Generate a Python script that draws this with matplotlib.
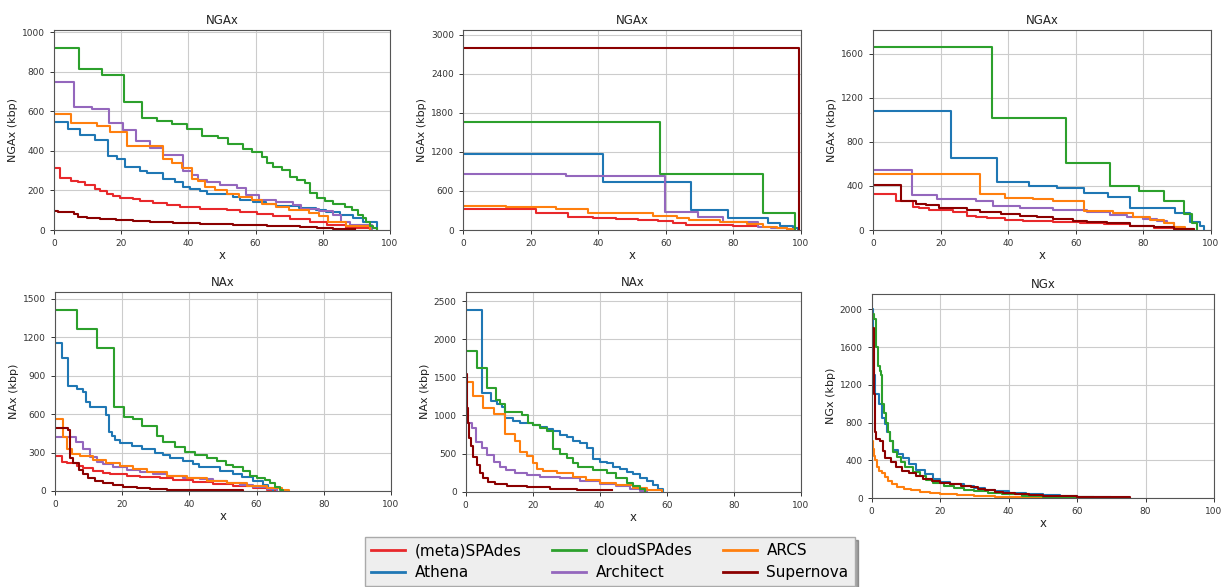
import matplotlib
matplotlib.use("Agg")
import matplotlib.pyplot as plt

# ---------------- data ----------------
methods = ["(meta)SPAdes", "Athena", "cloudSPAdes", "Architect", "ARCS", "Supernova"]
colors = ["#e8282b", "#1f77b4", "#2ca02c", "#9467bd", "#ff7f0e", "#8b0000"]

titles = ["NGAx", "NGAx", "NGAx", "NAx", "NAx", "NGx"]
ylabels = ["NGAx (kbp)", "NGAx (kbp)", "NGAx (kbp)", "NAx (kbp)", "NAx (kbp)", "NGx (kbp)"]
xticks = [0, 20, 40, 60, 80, 100]
yticks1 = [0, 200, 400, 600, 800, 1000]
yticks2 = [0, 600, 1200, 1800, 2400, 3000]
yticks3 = [0, 400, 800, 1200, 1600]
yticks4 = [0, 300, 600, 900, 1200, 1500]
yticks5 = [0, 500, 1000, 1500, 2000, 2500]
yticks6 = [0, 400, 800, 1200, 1600, 2000]
ytops = [1013, 3080, 1820, 1557, 2622, 2162]

# panel 1 (NGAx)
p1_red = [(0,315),(1.8,265),(5,250),(7.2,240),(9.2,225),(12.2,205),(13.7,195),(15.7,180),(17.7,170),(19.7,160),(23.6,155),(25.6,145),(29.6,135),(33.5,125),(37.5,115),(43.5,105),(51.4,100),(55.3,90),(60.3,80),(65.3,70),(70.2,55),(76.2,40),(81.2,25),(87,10),(94,0)]
p1_blue = [(0,548),(4.3,511),(7.7,481),(12.2,457),(16.2,375),(18.7,360),(21.1,319),(25.6,299),(27.6,289),(32.5,260),(36,240),(38.5,218),(40.5,205),(43.5,195),(45.5,180),(53.4,165),(55.5,150),(59.3,140),(63,130),(66,120),(73,110),(78,100),(81,90),(85,75),(89,60),(92,40),(96,0)]
p1_green = [(0,920),(7.5,815),(14.3,782),(20.8,645),(26.1,565),(30.6,550),(35,535),(39.7,510),(44,475),(48.9,465),(51.9,432),(56.3,408),(58.8,392),(61.8,370),(63.3,336),(65.3,316),(67.8,305),(70.2,269),(72.2,255),(74.7,239),(76.2,185),(78.2,163),(80.7,145),(83.1,130),(86.6,115),(88.6,101),(90.6,75),(92,60),(93,40),(94,20),(95,10),(96,0)]
p1_purple = [(0,750),(6,622),(11.2,610),(16.5,543),(20.6,505),(24.5,450),(28.5,415),(32.5,380),(38.5,300),(41,280),(43,255),(45.5,240),(49.5,225),(54.5,210),(57,175),(61,150),(66,140),(71,125),(73.5,105),(79,95),(83,75),(85.5,40),(88,25),(94.5,0)]
p1_orange = [(0,585),(5,541),(12.7,525),(16.7,496),(21.8,425),(32.5,361),(35,341),(38,311),(41,260),(43,250),(45,218),(48,200),(51.5,181),(55,165),(59,151),(62,130),(66,115),(70,100),(76,85),(79,70),(81.6,40),(87,20),(94,0)]
p1_darkred = [(0,95),(1.3,90),(6,80),(7.2,65),(9.7,60),(13.7,55),(18.6,50),(23.6,45),(28.5,40),(35.5,35),(43.5,30),(53.4,25),(63.3,20),(73.2,15),(78.2,10),(83,5),(89.6,5)]

# panel 2 (NGAx)
p2_red = [(0,315),(21.7,255),(31.1,204),(38.5,190),(45.4,165),(51.8,150),(57.7,135),(62.2,110),(66.1,80),(71,70),(80,60),(87,60)]
p2_blue = [(0,1170),(41.5,735),(67.6,306),(78.5,179),(90.3,100),(93.8,60),(97.7,30),(99,0)]
p2_green = [(0,1660),(58.4,857),(88.8,255),(98.2,0)]
p2_purple = [(0,865),(30.6,827),(59.7,281),(69.6,194),(77,130),(87.4,50),(91,30),(96,0)]
p2_orange = [(0,365),(12.8,350),(27.6,330),(37,265),(56.3,215),(63.2,180),(67,160),(76,130),(84,90),(88.8,50),(92.8,25),(95.8,10),(97.7,0)]
p2_darkred = [(0,2800),(99.3,0)]

# panel 3 (NGAx)
p3_red = [(0,323),(6.9,263),(11.9,211),(13.6,200),(16.6,185),(23.7,166),(27.7,130),(30.6,120),(33.6,110),(39,95),(44.5,85),(53.4,75),(61.3,60),(68.2,50),(76,35),(83,20),(89,10),(94.9,0)]
p3_blue = [(0,1080),(23,650),(36.6,438),(46.2,398),(54.5,377),(62.3,332),(69.4,302),(76.1,202),(89.4,150),(93.9,75),(96.8,40),(98,0)]
p3_green = [(0,1660),(35.3,1020),(57,610),(70,398),(78.6,353),(86,263),(91.9,142),(94.4,60),(95.8,0)]
p3_purple = [(0,545),(11.6,317),(18.8,281),(30.6,260),(35.6,220),(43.5,200),(53.4,181),(63.2,160),(70,140),(75,120),(80,100),(84,80),(87,60),(89,30),(91,0)]
p3_orange = [(0,505),(31.6,323),(39,293),(47.4,280),(53.4,263),(62.5,172),(71,150),(77,120),(82,90),(86,60),(89,30),(92.4,0)]
p3_darkred = [(0,410),(8.4,263),(12.8,240),(15.8,230),(19.5,196),(27.7,180),(31.6,160),(38,145),(43.5,130),(48.4,115),(53.4,100),(59.3,85),(63.2,75),(69.2,60),(76,40),(83,25),(89,10),(94.9,0)]

# panel 4 (NAx)
p4_red = [(0,270),(2,229),(3.5,215),(6.4,195),(8.4,180),(11.4,160),(14.4,140),(16.4,130),(21.3,120),(25.3,110),(31.3,100),(35.2,85),(41.2,70),(47.1,55),(53,40),(59,25),(63,10),(66,0)]
p4_blue = [(0,1155),(2,1036),(4,820),(6.4,800),(8.4,770),(9.2,698),(10.4,659),(15.2,594),(16,464),(16.9,430),(17.9,398),(19.3,375),(22.8,355),(25.8,330),(29.8,300),(32.2,280),(34.2,255),(38.2,235),(41.2,210),(42.9,190),(49.1,156),(53.1,130),(55.6,110),(59,80),(62,50),(63.5,20),(64.8,0)]
p4_green = [(0,1415),(6.6,1263),(12.4,1115),(17.7,654),(20.6,581),(23.3,560),(25.8,510),(30.5,432),(32.2,380),(35.7,345),(38.7,307),(41.7,285),(45.1,255),(48.1,235),(51,203),(53,190),(56,160),(58,120),(60,100),(62.5,85),(64,60),(65.5,30),(67,10),(68,0)]
p4_purple = [(0,420),(6.3,380),(8.4,328),(10.4,263),(12.4,229),(14.4,210),(17.4,190),(21.3,165),(25.3,150),(29.3,135),(33.2,120),(38.2,105),(43.2,90),(47.1,75),(51.1,60),(55.1,45),(59,30),(63,15),(66,0)]
p4_orange = [(0,565),(2.5,424),(3.5,326),(5,286),(7.4,270),(11.4,245),(15.2,220),(19.3,195),(23.3,170),(27.3,145),(33.2,120),(39.2,100),(45.2,80),(51.1,60),(57.1,40),(63,20),(67.5,8),(69.7,0)]
p4_darkred = [(0,495),(4,478),(4.5,260),(5.5,216),(7.1,164),(8.4,130),(9.9,100),(11.9,80),(14.4,60),(17.4,45),(20.3,30),(24.3,20),(28.3,12),(33.2,8),(43,5),(55.9,3)]

# panel 5 (NAx)
p5_red = []
p5_blue = [(0,2385),(4.8,1298),(7.5,1193),(9.3,1150),(10.7,1110),(11.7,960),(14,930),(16.2,905),(20.2,880),(22.2,850),(24.2,820),(26.2,790),(28.2,740),(30.1,715),(32.1,670),(34.1,640),(36.1,570),(38.1,430),(40.1,390),(42.1,375),(44.1,330),(46.1,300),(48,260),(50,230),(52,180),(54,140),(56,90),(57.5,40),(59,0)]
p5_green = [(0,1840),(3.3,1626),(6.3,1364),(9.1,1200),(10.2,1150),(11.7,1049),(16.7,1000),(18.7,905),(20.2,880),(22.2,840),(24.2,790),(26.2,560),(28.2,500),(30.1,440),(32.1,380),(33.6,319),(38.1,280),(42.1,240),(45,180),(48,120),(50,70),(52,30),(53.5,0)]
p5_purple = [(0,900),(1.8,840),(3.1,656),(4.8,577),(6.5,480),(8.3,393),(10.2,328),(12,290),(14.7,250),(18.2,220),(22.2,190),(28.2,175),(34.1,140),(40.1,105),(45,70),(49,40),(52,15),(54,0)]
p5_orange = [(0,1440),(2.3,1259),(5.3,1101),(8.3,1018),(11.7,752),(14.7,664),(16.2,524),(18.2,470),(20.2,380),(21.2,300),(23.2,270),(27.2,240),(32.1,190),(36,150),(40.1,120),(45,90),(50,55),(54,20),(58.5,0)]
p5_darkred = [(0,1540),(0.4,1100),(0.8,900),(1.1,700),(1.5,600),(2.3,450),(3.3,350),(4.3,250),(5.3,180),(6.8,130),(8.8,100),(12.2,80),(18.2,60),(25.2,40),(33.1,25),(40.1,20),(43.6,20)]

# panel 6 (NGx)
p6_red = []
p6_blue = [(0,2000),(0.3,1700),(0.7,1300),(1,1100),(2,1000),(3,850),(3.9,780),(4.5,700),(5.3,600),(6.3,510),(7.8,470),(9,420),(11,360),(13,300),(15.5,250),(18,200),(20,170),(23,150),(27,130),(30,110),(33,90),(36,70),(40,55),(45,40),(50,30),(55,20),(60,12),(70,5),(75,3)]
p6_green = [(0,1950),(0.6,1900),(1.2,1600),(1.7,1400),(2.3,1350),(2.6,1300),(3,1000),(3.5,900),(4.2,800),(4.8,700),(5.4,600),(6.3,490),(7.3,430),(8.5,380),(9.8,330),(12,280),(14,230),(16,190),(18,160),(21,130),(24,110),(27,90),(30,70),(34,55),(38,40),(44,25),(50,15),(58,8),(65,3),(75,2)]
p6_purple = []
p6_orange = [(0,600),(0.3,520),(0.6,450),(1,400),(1.6,330),(2.2,290),(3,260),(3.8,220),(4.8,180),(6,150),(7.5,120),(9.5,100),(11.5,80),(14,65),(17,50),(20,40),(25,30),(30,22),(36,15),(42,10),(50,6),(58,3),(62,2)]
p6_darkred = [(0,1800),(0.8,1100),(0.9,900),(1.0,700),(1.2,630),(2.4,600),(3.2,500),(4,420),(5.5,380),(7,330),(8.8,290),(11,260),(13,230),(15,200),(17.5,180),(20,160),(23,145),(26,130),(29,120),(31,100),(33,80),(36,65),(38.5,55),(42,45),(46,35),(50,25),(55,18),(60,12),(66,7),(75.5,5)]

panels = [
    [p1_red, p1_blue, p1_green, p1_purple, p1_orange, p1_darkred],
    [p2_red, p2_blue, p2_green, p2_purple, p2_orange, p2_darkred],
    [p3_red, p3_blue, p3_green, p3_purple, p3_orange, p3_darkred],
    [p4_red, p4_blue, p4_green, p4_purple, p4_orange, p4_darkred],
    [p5_red, p5_blue, p5_green, p5_purple, p5_orange, p5_darkred],
    [p6_red, p6_blue, p6_green, p6_purple, p6_orange, p6_darkred],
]
yticks_all = [yticks1, yticks2, yticks3, yticks4, yticks5, yticks6]

# ---------------- layout ----------------
W, H = 1227, 587
fig = plt.figure(figsize=(W / 100, H / 100), dpi=100)

boxes_px = [
    (54, 390, 29.5, 230),
    (463, 801, 29.5, 230),
    (873, 1211, 29.5, 230),
    (55, 391, 291.7, 491),
    (465.7, 800.7, 291.7, 491.7),
    (871.7, 1214, 294, 498),
]

draw_order = [0, 1, 3, 4, 2, 5]
handles = {}
for i, (l, r, t, b) in enumerate(boxes_px):
    ax = fig.add_axes([l / W, 1 - b / H, (r - l) / W, (b - t) / H])
    for k in draw_order:
        pts = panels[i][k]
        if not pts:
            continue
        xs = [p[0] for p in pts]
        ys = [p[1] for p in pts]
        ln, = ax.plot(xs, ys, drawstyle="steps-post", color=colors[k], lw=1.5,
                      label=methods[k])
        handles.setdefault(k, ln)
    ax.set_xlim(0, 100)
    ax.set_ylim(0, ytops[i])
    ax.set_xticks(xticks)
    ax.set_yticks(yticks_all[i])
    ax.grid(True, color="#cccccc", lw=0.8)
    ax.set_axisbelow(True)
    ax.tick_params(labelsize=6.5, colors="#333333", length=3, width=0.7)
    for s in ax.spines.values():
        s.set_color("#555555")
        s.set_linewidth(0.8)
    ax.set_title(titles[i], fontsize=8.5, pad=4, color="#222222")
    ax.set_xlabel("x", fontsize=8.5, labelpad=1, color="#222222")
    ax.set_ylabel(ylabels[i], fontsize=8, labelpad=3, color="#222222")

leg = fig.legend([handles[k] for k in range(6)], methods, ncol=3,
                 loc="upper center", bbox_to_anchor=(0.497, 0.098),
                 fontsize=11, frameon=True, fancybox=False, shadow=True,
                 handlelength=2.2, handletextpad=0.65, columnspacing=2.0,
                 labelspacing=0.45, borderpad=0.4)
leg.get_frame().set_facecolor("#eeeeee")
leg.get_frame().set_edgecolor("#aaaaaa")
for lh in leg.get_lines():
    lh.set_linewidth(2)

fig.savefig("out.png", dpi=100)
